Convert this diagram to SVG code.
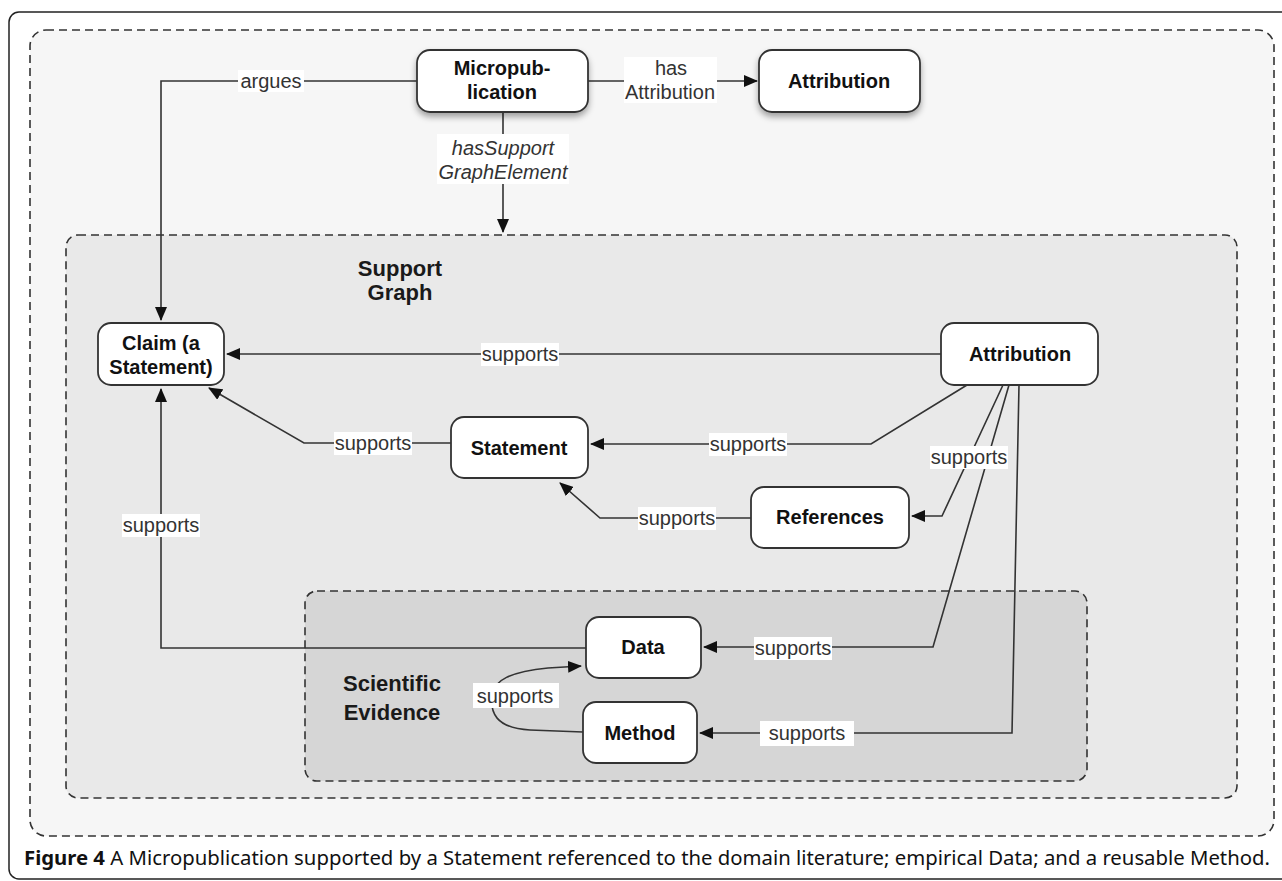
<svg xmlns="http://www.w3.org/2000/svg" width="1282" height="881" viewBox="0 0 1282 881">
<style>
.grp{stroke:#333;stroke-width:1.6;stroke-dasharray:8 5}
.node rect{fill:#fff;stroke:#333;stroke-width:1.8}
.nt{font-family:"Liberation Sans",Arial,sans-serif;font-weight:bold;font-size:20px;fill:#111;text-anchor:middle}
.gt{font-family:"Liberation Sans",Arial,sans-serif;font-weight:bold;font-size:22px;fill:#1a1a1a;text-anchor:middle}
.lt{font-family:"Liberation Sans",Arial,sans-serif;font-size:20px;fill:#333;text-anchor:middle}
.it{font-style:italic}
.lb{fill:#fff}
.c{fill:none;stroke:#333;stroke-width:1.6}
.cap{font-family:"Noto Sans","Open Sans",sans-serif;font-size:19px;fill:#111}
</style>
<defs>
<marker id="ah" markerUnits="userSpaceOnUse" markerWidth="14" markerHeight="12" refX="13" refY="6" orient="auto">
<path d="M0,0 L14,6 L0,12 Z" fill="#111"/>
</marker>
<filter id="sh" x="-10%" y="-10%" width="120%" height="140%">
<feDropShadow dx="0" dy="4" stdDeviation="3" flood-color="#000" flood-opacity="0.35"/>
</filter>
</defs>
<rect x="0" y="0" width="1282" height="881" fill="#fff"/>
<rect x="9" y="12" width="1290" height="867" rx="10" fill="#fff" stroke="#222" stroke-width="1.5"/>
<g id="groups">
<rect class="grp" x="30" y="30" width="1244" height="806" rx="16" fill="#f6f6f6"/>
<rect class="grp" x="66" y="235" width="1171" height="563" rx="12" fill="#e9e9e9"/>
<rect class="grp" x="305" y="591" width="782" height="190" rx="12" fill="#d6d6d6"/>
<text class="gt" x="400" y="276">Support</text>
<text class="gt" x="400" y="300">Graph</text>
<text class="gt" x="392" y="691">Scientific</text>
<text class="gt" x="392" y="720">Evidence</text>
</g>
<g id="connectors">
<path class="c" d="M417,81 H161 V320" marker-end="url(#ah)"/>
<path class="c" d="M588,81 H757" marker-end="url(#ah)"/>
<path class="c" d="M503,112 V232" marker-end="url(#ah)"/>
<path class="c" d="M941,354 H227" marker-end="url(#ah)"/>
<path class="c" d="M451,443 H304 L209,388" marker-end="url(#ah)"/>
<path class="c" d="M967,385 L871,444 H591" marker-end="url(#ah)"/>
<path class="c" d="M751,518 H600 L560,483" marker-end="url(#ah)"/>
<path class="c" d="M1003,385 L942,516 H912" marker-end="url(#ah)"/>
<path class="c" d="M1009,385 L933,647 H704" marker-end="url(#ah)"/>
<path class="c" d="M1019,385 L1012,733 H700" marker-end="url(#ah)"/>
<path class="c" d="M586,648 H161 V389" marker-end="url(#ah)"/>
<path class="c" d="M583,732 L530,730 C495,728 490,712 492,695 C494,680 510,672 548,668 L581,666" marker-end="url(#ah)"/>
<rect class="lb" x="238" y="70" width="66" height="22"/>
<text class="lt" x="271" y="88">argues</text>
<rect class="lb" x="624" y="57" width="93" height="46"/>
<text class="lt" x="671" y="75">has</text>
<text class="lt" x="670" y="99">Attribution</text>
<rect class="lb" x="437" y="134" width="132" height="50"/>
<text class="lt it" x="503" y="155">hasSupport</text>
<text class="lt it" x="503" y="179">GraphElement</text>
<rect class="lb" x="481" y="343" width="78" height="23"/>
<text class="lt" x="520" y="361">supports</text>
<rect class="lb" x="334" y="432" width="78" height="23"/>
<text class="lt" x="373" y="450">supports</text>
<rect class="lb" x="709" y="433" width="78" height="23"/>
<text class="lt" x="748" y="451">supports</text>
<rect class="lb" x="638" y="507" width="78" height="23"/>
<text class="lt" x="677" y="525">supports</text>
<rect class="lb" x="930" y="446" width="78" height="23"/>
<text class="lt" x="969" y="464">supports</text>
<rect class="lb" x="754" y="637" width="78" height="23"/>
<text class="lt" x="793" y="655">supports</text>
<rect class="lb" x="760" y="721" width="94" height="25"/>
<text class="lt" x="807" y="740">supports</text>
<rect class="lb" x="122" y="514" width="78" height="23"/>
<text class="lt" x="161" y="532">supports</text>
<rect class="lb" x="473" y="683" width="86" height="25"/>
<text class="lt" x="515" y="703">supports</text>
</g>
<g id="micropublication" class="node"><rect x="417" y="50" width="171" height="62" rx="13" filter="url(#sh)"/><text class="nt" x="502" y="75">Micropub-</text><text class="nt" x="502" y="99">lication</text></g>
<g id="attribution-top" class="node"><rect x="759" y="50" width="161" height="62" rx="13" filter="url(#sh)"/><text class="nt" x="839" y="88">Attribution</text></g>
<g id="claim" class="node"><rect x="98" y="323" width="126" height="62" rx="13"/><text class="nt" x="161" y="350">Claim (a</text><text class="nt" x="161" y="374">Statement)</text></g>
<g id="attribution" class="node"><rect x="941" y="323" width="157" height="62" rx="13"/><text class="nt" x="1020" y="361">Attribution</text></g>
<g id="statement" class="node"><rect x="451" y="417" width="137" height="61" rx="13"/><text class="nt" x="519" y="455">Statement</text></g>
<g id="references" class="node"><rect x="751" y="487" width="158" height="61" rx="13"/><text class="nt" x="830" y="524">References</text></g>
<g id="data" class="node"><rect x="586" y="617" width="115" height="61" rx="13"/><text class="nt" x="643" y="654">Data</text></g>
<g id="method" class="node"><rect x="583" y="702" width="114" height="61" rx="13"/><text class="nt" x="640" y="740">Method</text></g>
<text class="cap" x="24" y="865" textLength="1246" lengthAdjust="spacingAndGlyphs"><tspan font-weight="bold">Figure 4</tspan> A Micropublication supported by a Statement referenced to the domain literature; empirical Data; and a reusable Method.</text>
</svg>
